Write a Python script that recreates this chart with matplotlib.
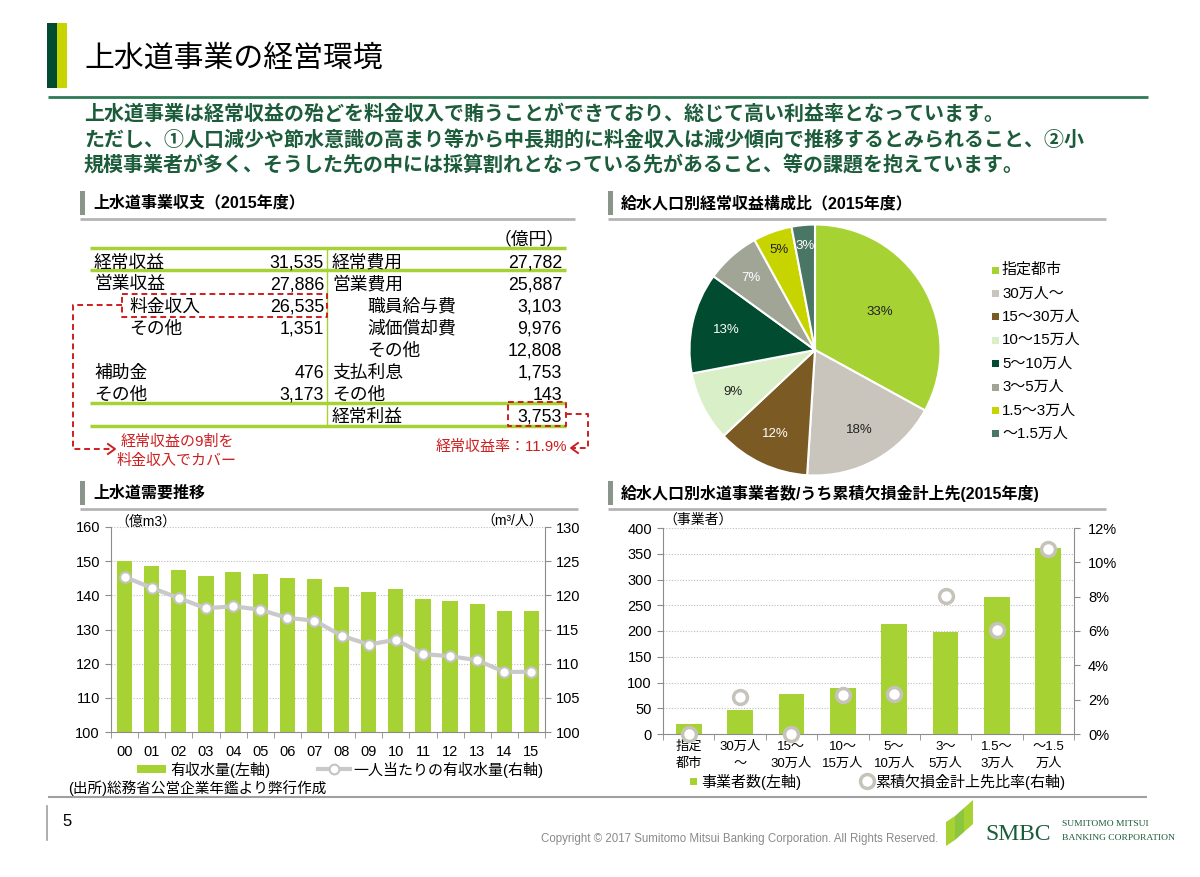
import matplotlib
matplotlib.use('Agg')
import matplotlib.pyplot as plt
from matplotlib.patches import Rectangle, Polygon
import numpy as np

plt.rcParams['font.family'] = ['Liberation Sans', 'Noto Sans CJK JP', 'DejaVu Sans']

# ---------------- data ----------------
title = "上水道事業の経営環境"
body_lines = [
    "上水道事業は経常収益の殆どを料金収入で賄うことができており、総じて高い利益率となっています。",
    "ただし、①人口減少や節水意識の高まり等から中長期的に料金収入は減少傾向で推移するとみられること、②小",
    "規模事業者が多く、そうした先の中には採算割れとなっている先があること、等の課題を抱えています。",
]
hdr_table = "上水道事業収支（2015年度）"
hdr_pie = "給水人口別経常収益構成比（2015年度）"
hdr_demand = "上水道需要推移"
hdr_ops = "給水人口別水道事業者数/うち累積欠損金計上先(2015年度)"

left_labels = ["経常収益", "営業収益", "料金収入", "その他", "", "補助金", "その他", ""]
left_values = [31535, 27886, 26535, 1351, None, 476, 3173, None]
left_indent = [0, 0, 1, 1, 0, 0, 0, 0]
right_labels = ["経常費用", "営業費用", "職員給与費", "減価償却費", "その他", "支払利息", "その他", "経常利益"]
right_values = [27782, 25887, 3103, 9976, 12808, 1753, 143, 3753]
right_indent = [0, 0, 1, 1, 1, 0, 0, 0]
table_unit = "（億円）"
note_left = ["経常収益の9割を", "料金収入でカバー"]
note_right = "経常収益率：11.9%"

pie_labels = ["指定都市", "30万人～", "15～30万人", "10～15万人", "5～10万人", "3～5万人", "1.5～3万人", "～1.5万人"]
pie_shares = [33, 18, 12, 9, 13, 7, 5, 3]
pie_colors = ["#a6d234", "#c9c5bc", "#7b5a23", "#d9efc8", "#014b31", "#a1a596", "#c8d400", "#4a7666"]
pie_text_colors = ["#222222", "#222222", "white", "#222222", "white", "white", "#222222", "white"]
pie_label_r = [0.60, 0.73, 0.74, 0.73, 0.72, 0.77, 0.85, 0.83]

years = ["00", "01", "02", "03", "04", "05", "06", "07", "08", "09", "10", "11", "12", "13", "14", "15"]
water_volume = [150.0, 148.5, 147.4, 145.8, 146.7, 146.3, 145.1, 144.9, 142.5, 141.0, 141.8, 138.9, 138.4, 137.5, 135.3, 135.3]
per_capita = [122.7, 121.1, 119.6, 118.1, 118.4, 117.9, 116.7, 116.3, 114.1, 112.8, 113.5, 111.4, 111.1, 110.5, 108.8, 108.8]

op_cats = ["指定\n都市", "30万人\n～", "15～\n30万人", "10～\n15万人", "5～\n10万人", "3～\n5万人", "1.5～\n3万人", "～1.5\n万人"]
op_counts = [20, 47, 77, 90, 213, 199, 266, 362]
deficit_ratio = [0.0, 2.15, 0.0, 2.25, 2.35, 8.05, 6.05, 10.8]

# ---------------- figure ----------------
W, H = 1200, 877
fig = plt.figure(figsize=(W / 100, H / 100), dpi=100)
fig.patch.set_facecolor('white')

ov = fig.add_axes([0, 0, 1, 1])
ov.set_xlim(0, W)
ov.set_ylim(H, 0)
ov.axis('off')

def rect(x0, y0, x1, y1):
    return [x0 / W, 1 - y1 / H, (x1 - x0) / W, (y1 - y0) / H]

def T(x, y, s, size, color='black', ha='left', va='center', weight='normal', **kw):
    ov.text(x, y, s, fontsize=size, color=color, ha=ha, va=va, fontweight=weight, **kw)

DG = '#1c5c3b'
GREEN = '#a6d234'
RED = '#cc1f1f'
AXC = '#8c8c8c'

# title block
ov.add_patch(Rectangle((47, 23), 10, 65, color='#014b31', lw=0))
ov.add_patch(Rectangle((57, 23), 10, 65, color='#c8d400', lw=0))
T(84, 59, title, 21.5)
ov.plot([48, 1148], [97, 97], color='#2e7a55', lw=2, solid_capstyle='butt')

for i, line in enumerate(body_lines):
    T(84, 114 + i * 25.5, line, 14.4, color=DG, weight='bold')

# section headers
def header(x, y, s, x_end):
    ov.add_patch(Rectangle((x, y - 12), 4.5, 24, color='#8a948a', lw=0))
    T(x + 13, y, s, 11.5, weight='bold')
    ov.plot([x, x_end], [y + 16, y + 16], color='#b4b4b4', lw=2, solid_capstyle='butt')

header(80, 203, hdr_table, 575)
header(608, 203, hdr_pie, 1106)
header(80, 493, hdr_demand, 578)
header(608, 493, hdr_ops, 1106)

# ---------------- table ----------------
row_y0, row_dy = 262, 22.0
BL = 5.5  # baseline offset from row centre
TS = 12.8
T(565, 239 + BL, table_unit, TS, ha='right', va='baseline')
for yy in [248, 270, 403, 426]:
    ov.plot([90, 566], [yy, yy], color=GREEN, lw=2.5, solid_capstyle='butt')
ov.plot([327, 327], [248, 426], color=GREEN, lw=1)
for i in range(len(left_labels)):
    y = row_y0 + i * row_dy + BL
    if left_labels[i]:
        T(94 + 35 * left_indent[i], y, left_labels[i], TS, va='baseline')
    if left_values[i] is not None:
        T(324, y, f"{left_values[i]:,}", TS, ha='right', va='baseline')
    T(332 + 35 * right_indent[i], y, right_labels[i], TS, va='baseline')
    T(562, y, f"{right_values[i]:,}", TS, ha='right', va='baseline')

dash = (0, (3, 2))
# dashed boxes
ov.plot([122, 327, 327, 122, 122], [294, 294, 317, 317, 294], color=RED, lw=1.4, ls=dash)
ov.plot([508, 566, 566, 508, 508], [402, 402, 426, 426, 402], color=RED, lw=1.4, ls=dash)
# connectors
ov.plot([122, 73, 73, 114], [305, 305, 449, 449], color=RED, lw=1.4, ls=dash)
ov.plot([108, 115, 108], [444, 449, 454], color=RED, lw=1.4)
ov.plot([566, 588, 588, 572], [414, 414, 448, 448], color=RED, lw=1.4, ls=dash)
ov.plot([578, 571, 578], [443, 448, 453], color=RED, lw=1.4)
T(177, 442, note_left[0], 10.8, color=RED, ha='center')
T(177, 461, note_left[1], 10.8, color=RED, ha='center')
T(567, 447, note_right, 10.8, color=RED, ha='right')

# ---------------- pie ----------------
axp = fig.add_axes(rect(687, 222, 943, 478))
wedges, _ = axp.pie(pie_shares, colors=pie_colors, startangle=90, counterclock=False,
                    wedgeprops=dict(edgecolor='white', linewidth=1.5))
axp.set_xlim(-1.02, 1.02)
axp.set_ylim(-1.02, 1.02)
axp.set_aspect('equal')
axp.axis('off')
for w, share, tc, r in zip(wedges, pie_shares, pie_text_colors, pie_label_r):
    ang = np.deg2rad((w.theta1 + w.theta2) / 2)
    axp.text(r * np.cos(ang), r * np.sin(ang), f"{share}%", ha='center', va='center',
             fontsize=9.5, color=tc)
for i, (lab, col) in enumerate(zip(pie_labels, pie_colors)):
    y = 270 + i * 23.4
    ov.add_patch(Rectangle((992, y - 3.5), 7, 7, color=col, lw=0))
    T(1002, y, lab, 10.8)

# ---------------- demand chart ----------------
ax1 = fig.add_axes(rect(111, 527, 545, 732))
ax1.set_facecolor('none')
x = np.arange(len(years))
ax1.bar(x, water_volume, width=0.56, color=GREEN, zorder=2)
ax1.set_ylim(100, 160)
ax1.set_yticks(np.arange(100, 161, 10))
ax1.set_xlim(-0.5, len(years) - 0.5)
ax1.set_xticks(x)
ax1.set_xticklabels(years)
ax1.set_xticks(np.arange(-0.5, len(years), 1), minor=True)
ax1.tick_params(axis='x', which='major', length=0, labelsize=10.5, pad=9)
ax1.tick_params(axis='x', which='minor', length=4, color=AXC, direction='out')
ax1.tick_params(axis='y', length=4, color=AXC, labelsize=10.5, pad=4)
for v in range(110, 161, 10):
    ax1.axhline(v, color='#bdbdbd', lw=0.8, ls=(0, (1, 1.5)), zorder=1)
for s in ['top', 'right']:
    ax1.spines[s].set_visible(False)
for s in ['left', 'bottom']:
    ax1.spines[s].set_color(AXC)
ax2 = ax1.twinx()
ax2.plot(x, per_capita, color='#c9c9c9', lw=3, marker='o', ms=7.5, mfc='white',
         mec='#c4c4c4', mew=1.5, zorder=3)
ax2.set_ylim(100, 130)
ax2.set_yticks(np.arange(100, 131, 5))
ax2.tick_params(axis='y', length=4, color=AXC, labelsize=10.5, pad=4)
for s in ['top', 'left', 'bottom']:
    ax2.spines[s].set_visible(False)
ax2.spines['right'].set_color(AXC)
T(115, 522, "（億m3）", 10)
T(543, 522, "（m³/人）", 10, ha='right')

ov.add_patch(Rectangle((137, 765), 29, 8, color=GREEN, lw=0))
T(170, 770, "有収水量(左軸)", 10.8)
ov.plot([318, 350], [769, 769], color='#c9c9c9', lw=3)
ov.plot([334], [769], marker='o', ms=7, mfc='white', mec='#c4c4c4', mew=1.5)
T(353, 770, "一人当たりの有収水量(右軸)", 10.8)
T(68, 788, "(出所)総務省公営企業年鑑より弊行作成", 10.5)

# ---------------- operators chart ----------------
ax3 = fig.add_axes(rect(663, 528, 1074, 734))
ax3.set_facecolor('none')
xo = np.arange(len(op_cats))
ax3.bar(xo, op_counts, width=0.5, color=GREEN, zorder=2)
ax3.set_ylim(0, 400)
ax3.set_yticks(np.arange(0, 401, 50))
ax3.set_xlim(-0.5, len(op_cats) - 0.5)
ax3.set_xticks(xo)
ax3.set_xticklabels(op_cats, linespacing=1.5)
ax3.set_xticks(np.arange(-0.5, len(op_cats), 1), minor=True)
ax3.tick_params(axis='x', which='major', length=0, labelsize=9.5, pad=5)
ax3.tick_params(axis='x', which='minor', length=4, color=AXC, direction='out')
ax3.tick_params(axis='y', length=4, color=AXC, labelsize=10.5, pad=4)
for v in range(50, 401, 50):
    ax3.axhline(v, color='#bdbdbd', lw=0.8, ls=(0, (1, 1.5)), zorder=1)
for s in ['top', 'right']:
    ax3.spines[s].set_visible(False)
for s in ['left', 'bottom']:
    ax3.spines[s].set_color(AXC)
ax4 = ax3.twinx()
ax4.plot(xo, deficit_ratio, ls='none', marker='o', ms=10, mfc='white', mec='#c6c3bb',
         mew=2.5, zorder=3, clip_on=False)
ax4.set_ylim(0, 12)
ax4.set_yticks(np.arange(0, 13, 2))
ax4.set_yticklabels([f"{v}%" for v in range(0, 13, 2)])
ax4.tick_params(axis='y', length=4, color=AXC, labelsize=10.5, pad=6)
for s in ['top', 'left', 'bottom']:
    ax4.spines[s].set_visible(False)
ax4.spines['right'].set_color(AXC)
T(663, 520, "（事業者）", 10)

ov.add_patch(Rectangle((690, 778), 7, 7, color=GREEN, lw=0))
T(701, 782, "事業者数(左軸)", 10.8)
ov.plot([867], [781], marker='o', ms=10, mfc='white', mec='#c6c3bb', mew=2.5)
T(875, 782, "累積欠損金計上先比率(右軸)", 10.8)

# ---------------- footer ----------------
ov.plot([48, 1147], [797, 797], color='#a0a0a0', lw=1.5, solid_capstyle='butt')
ov.plot([47, 47], [806, 840], color='#a0a0a0', lw=1.2)
T(62, 822, "5", 12)
T(938, 839, "Copyright © 2017 Sumitomo Mitsui Banking Corporation. All Rights Reserved.", 8.3,
  color='#8a8a8a', ha='right')
ov.add_patch(Polygon([(946, 822), (955, 816), (955, 840), (946, 846)], color='#a6d234', lw=0))
ov.add_patch(Polygon([(955, 816), (964, 808), (964, 832), (955, 840)], color='#8cc63f', lw=0))
ov.add_patch(Polygon([(964, 808), (973, 800), (973, 824), (964, 832)], color='#a6d234', lw=0))
ov.text(985, 840, "SMBC", fontsize=17, color='#1c5c3b', family='Liberation Serif', va='baseline')
ov.text(1062, 826, "SUMITOMO MITSUI", fontsize=6.8, color='#1c5c3b', family='Liberation Serif', va='baseline')
ov.text(1062, 840, "BANKING CORPORATION", fontsize=6.8, color='#1c5c3b', family='Liberation Serif', va='baseline')

fig.savefig('out.png', dpi=100)
